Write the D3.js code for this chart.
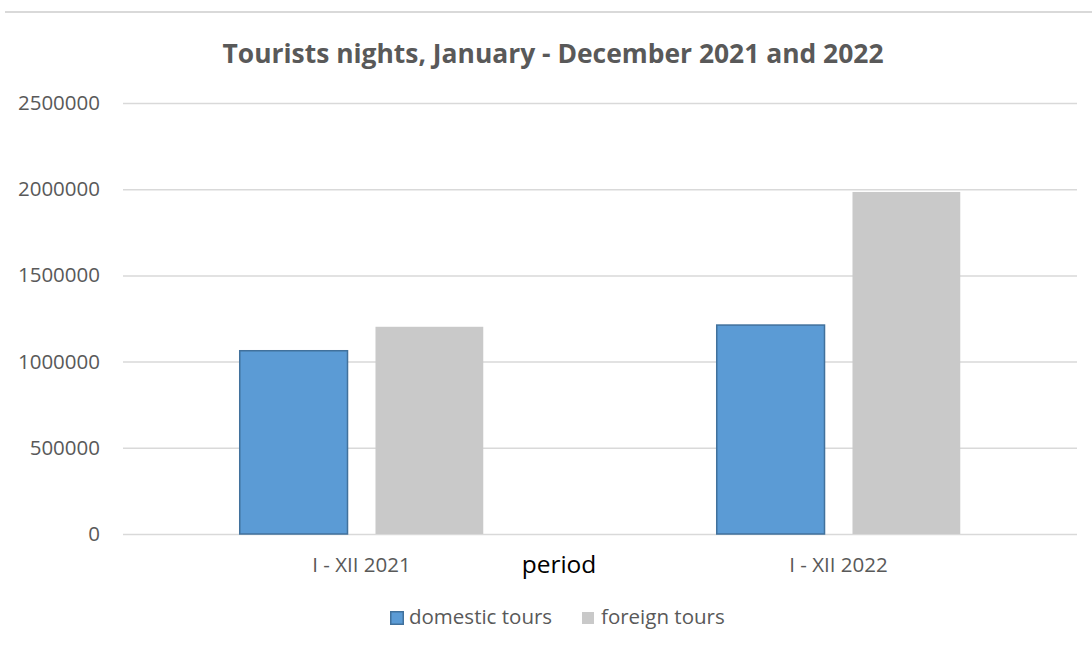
<!DOCTYPE html>
<html>
<head>
<meta charset="utf-8">
<script src="https://cdn.jsdelivr.net/npm/d3@7"></script>
<style>
  body { margin: 0; background: #fff; }
  svg text { font-family: 'Open Sans', sans-serif; }
</style>
</head>
<body>
<svg width="1092" height="648"></svg>
<script>
const categories = ['I - XII 2021', 'I - XII 2022']
const series = ['domestic tours', 'foreign tours']
const domestic = [1063000, 1212000]
const foreign = [1202000, 1984000]
const yTicks = [0, 500000, 1000000, 1500000, 2000000, 2500000]
const colors = { 'domestic tours': '#5b9bd5', 'foreign tours': '#c9c9c9' }

const svg = d3.select('svg')
const margin = { top: 103, right: 15, bottom: 114, left: 123 }
const width = +svg.attr('width') - margin.left - margin.right
const height = +svg.attr('height') - margin.top - margin.bottom

// chart border line at the top
svg.append('line')
  .attr('x1', 5).attr('x2', 1092)
  .attr('y1', 12).attr('y2', 12)
  .attr('stroke', '#d9d9d9').attr('stroke-width', 2)

svg.append('text')
  .attr('x', 553).attr('y', 63)
  .attr('text-anchor', 'middle')
  .attr('font-size', 27)
  .attr('font-weight', 'bold')
  .attr('fill', '#595959')
  .attr('textLength', 661)
  .attr('lengthAdjust', 'spacingAndGlyphs')
  .text('Tourists nights, January - December 2021 and 2022')

const g = svg.append('g').attr('transform', 'translate(' + margin.left + ',' + margin.top + ')')

const y = d3.scaleLinear()
  .domain([0, 2500000])
  .range([height, 0])

const x0 = d3.scaleBand()
  .domain(categories)
  .range([0, 954])

const x1 = d3.scaleBand()
  .domain(series)
  .range([0, x0.bandwidth()])
  .paddingInner(0.206)
  .paddingOuter(0.86)

// gridlines + y labels
const yAxis = d3.axisLeft(y).tickValues(yTicks).tickSize(-954).tickPadding(23).tickFormat(d3.format('d'))
const ya = g.append('g').call(yAxis)
ya.select('.domain').remove()
ya.selectAll('.tick line').attr('stroke', '#d9d9d9').attr('stroke-width', 1.5)
ya.selectAll('.tick text').attr('fill', '#595959').attr('font-size', 20.5)

const rows = categories.map((c, i) => ({ cat: c, values: [domestic[i], foreign[i]] }))

const grp = g.selectAll('.grp')
  .data(rows)
  .enter().append('g')
  .attr('class', 'grp')
  .attr('transform', d => 'translate(' + x0(d.cat) + ',0)')

grp.selectAll('rect')
  .data(d => d.values.map((v, j) => ({ s: series[j], v: v })))
  .enter().append('rect')
  .attr('x', d => x1(d.s))
  .attr('y', d => y(d.v))
  .attr('width', x1.bandwidth())
  .attr('height', d => height - y(d.v))
  .attr('fill', d => colors[d.s])
  .attr('stroke', d => d.s === 'domestic tours' ? '#41719c' : 'none')
  .attr('stroke-width', 1.5)

// category labels
const xAxis = d3.axisBottom(x0).tickSize(0).tickPadding(0)
const xa = g.append('g').attr('transform', 'translate(0,' + height + ')').call(xAxis)
xa.select('.domain').remove()
xa.selectAll('.tick text')
  .attr('y', 38).attr('dy', null)
  .attr('fill', '#595959').attr('font-size', 20.5)

svg.append('text')
  .attr('x', 559).attr('y', 573)
  .attr('text-anchor', 'middle')
  .attr('font-size', 24.5)
  .attr('fill', '#000')
  .text('period')

// legend
const legend = svg.append('g')
const lx = [390, 582]
series.forEach((s, i) => {
  const isDom = i === 0
  legend.append('rect')
    .attr('x', lx[i] + (isDom ? 0.75 : 0))
    .attr('y', isDom ? 611.75 : 612)
    .attr('width', isDom ? 12.5 : 12)
    .attr('height', isDom ? 12.5 : 12)
    .attr('fill', colors[s])
    .attr('stroke', isDom ? '#41719c' : 'none')
    .attr('stroke-width', 1.5)
  legend.append('text')
    .attr('x', lx[i] + 19).attr('y', 624)
    .attr('font-size', 20.5)
    .attr('fill', '#595959')
    .text(s)
})
</script>
</body>
</html>
